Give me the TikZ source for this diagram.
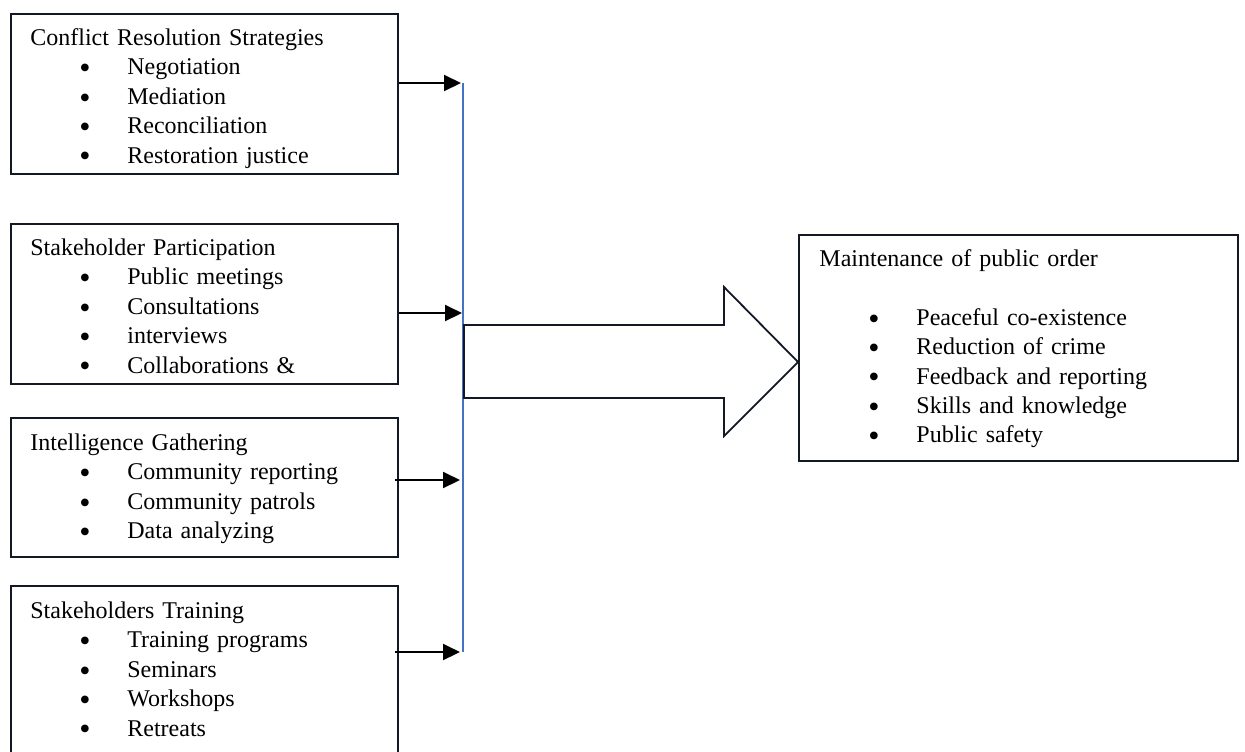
\documentclass[tikz,border=0pt]{standalone}
\usepackage{fontspec}
\setmainfont{Liberation Serif}
\usetikzlibrary{arrows.meta}
\definecolor{busblue}{RGB}{68,114,196}
\definecolor{inkline}{RGB}{18,24,36}
\newcommand\bdot{\smash{\raisebox{-1.9pt}{\fontsize{16}{0}\selectfont\textbullet}}}
\newcommand\bitem[1]{\hspace*{24.5pt}\makebox[24pt][l]{\bdot}#1}
\newcommand\firstline{\rule{0pt}{10pt}}

\begin{document}
\begin{tikzpicture}[x=0.5pt,y=-0.5pt,
	box/.style={draw=inkline, line width=0.9pt, anchor=north west, inner sep=0pt, minimum width=193.5pt},
	txt/.style={anchor=north west, inner sep=0pt, text width=185pt, align=left, font=\fontsize{12}{14.7}\selectfont},
	feed/.style={line width=1pt, -{Triangle[length=8.5pt,width=8pt]}}]
		%%%%% START %%%%%
		\useasboundingbox (0,0) rectangle (1245,751);
		\clip (0,0) rectangle (1245,751);
		
		% input boxes
		\node[box, minimum height=80pt] (crs) at (10,13) {};
		\node[txt] (crstext) at ([xshift=10pt,yshift=-6pt]crs.north west) {\firstline Conflict Resolution Strategies\\
			\bitem{Negotiation}\\ \bitem{Mediation}\\ \bitem{Reconciliation}\\ \bitem{Restoration justice}};
		
		\node[box, minimum height=80pt] (stp) at (10,223) {};
		\node[txt] (stptext) at ([xshift=10pt,yshift=-6pt]stp.north west) {\firstline Stakeholder Participation\\
			\bitem{Public meetings}\\ \bitem{Consultations}\\ \bitem{interviews}\\ \bitem{Collaborations \&}};
		
		\node[box, minimum height=69.5pt] (itg) at (10,417) {};
		\node[txt] (itgtext) at ([xshift=10pt,yshift=-6.5pt]itg.north west) {\firstline Intelligence Gathering\\
			\bitem{Community reporting}\\ \bitem{Community patrols}\\ \bitem{Data analyzing}};
		
		\node[box, minimum height=100pt] (trn) at (10,585) {};
		\node[txt] (trntext) at ([xshift=10pt,yshift=-6.5pt]trn.north west) {\firstline Stakeholders Training\\
			\bitem{Training programs}\\ \bitem{Seminars}\\ \bitem{Workshops}\\ \bitem{Retreats}};
		
		% output box
		\node[box, minimum width=219.5pt, minimum height=113pt] (mpo) at (798,234) {};
		\node[txt, text width=205pt] (mpotext) at ([xshift=10.5pt,yshift=-6pt]mpo.north west) {\firstline Maintenance of public order\\[14.7pt]
			\bitem{Peaceful co-existence}\\ \bitem{Reduction of crime}\\ \bitem{Feedback and reporting}\\ \bitem{Skills and knowledge}\\ \bitem{Public safety}};
		
		% collecting line
		\coordinate (bustop) at (463,83);
		\coordinate (busbot) at (463,652);
		\draw[busblue, line width=0.6pt] (bustop) -- (busbot);
		
		\coordinate (tip1) at (461,83);
		\coordinate (tip2) at (462,313);
		\coordinate (tip3) at (460,480);
		\coordinate (tip4) at (460,652);
		\draw[feed] (crs.east |- tip1) -- (tip1);
		\draw[feed] (stp.east |- tip2) -- (tip2);
		\draw[feed] ([xshift=-2pt]itg.east |- tip3) -- (tip3);
		\draw[feed] ([xshift=-2pt]trn.east |- tip4) -- (tip4);
		
		% block arrow
		\draw[inkline, line width=0.9pt] (464,325) -- (724,325) -- (724,287) -- (798,362) -- (724,436) -- (724,398) -- (464,398) -- cycle;
		%%%%% END %%%%%
\end{tikzpicture}
\end{document}
